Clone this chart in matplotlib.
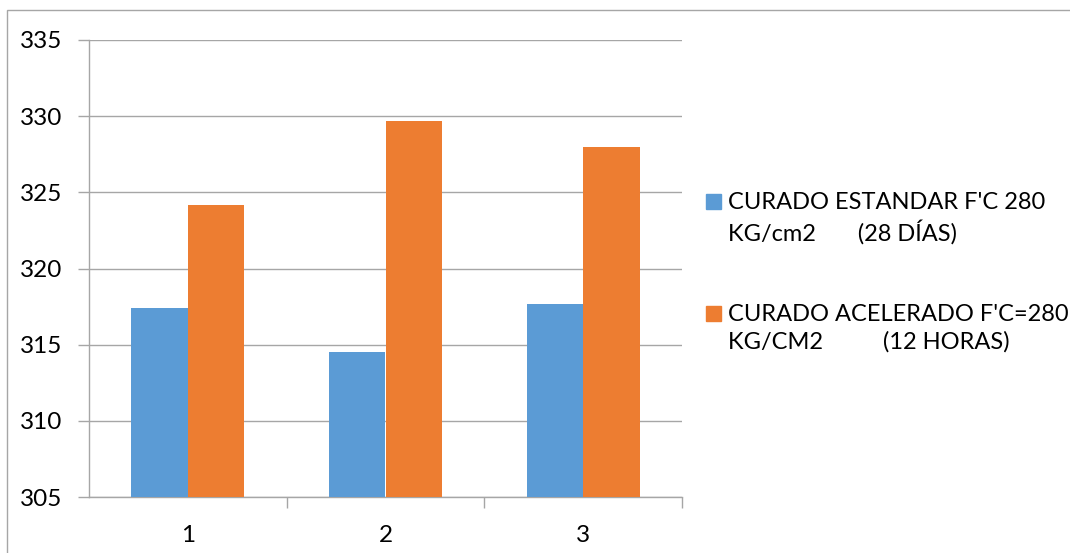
import numpy as np
import matplotlib.pyplot as plt
from matplotlib.patches import Rectangle

# Resistencia a compresión por muestra
muestras = ['1', '2', '3']
estandar = [317.4, 314.5, 317.7]
acelerado = [324.2, 329.7, 328.0]
leyenda = ["CURADO ESTANDAR F'C 280\nKG/cm2       (28 DÍAS)",
           "CURADO ACELERADO F'C=280\nKG/CM2          (12 HORAS)"]

azul = '#5B9BD5'
naranja = '#ED7D31'
gris = '#A6A6A6'

plt.rcParams['font.family'] = ['Lato', 'DejaVu Sans']

fig = plt.figure(figsize=(10.7, 5.53), dpi=100)
ax = fig.add_axes([89 / 1070, 1 - 497 / 553, (682 - 89) / 1070, (497 - 40) / 553])

x = np.arange(len(muestras))
w = 0.286
ax.bar(x - w / 2, np.array(estandar) - 305, w, bottom=305, color=azul, zorder=3)
ax.bar(x + w / 2, np.array(acelerado) - 305, w, bottom=305, color=naranja, zorder=3)

ax.set_xlim(-0.5, 2.5)
ax.set_ylim(305, 335)
ax.set_yticks(range(305, 336, 5))
ax.set_xticks(x)
ax.set_xticklabels(muestras)
ax.set_xticks([0.5, 1.5, 2.5], minor=True)

ax.grid(axis='y', color=gris, linewidth=1, zorder=0)
for s in ['top', 'right']:
    ax.spines[s].set_visible(False)
for s in ['left', 'bottom']:
    ax.spines[s].set_color(gris)
    ax.spines[s].set_linewidth(1)

ax.tick_params(axis='y', length=8, width=1, color=gris, pad=11, labelsize=17.5)
ax.tick_params(axis='x', which='major', length=0, pad=20, labelsize=17.5)
ax.tick_params(axis='x', which='minor', length=8, width=1, color=gris)

# leyenda a la derecha
for i, (col, txt) in enumerate(zip([azul, naranja], leyenda)):
    y0 = 194 + i * 112
    fig.add_artist(Rectangle((706 / 1070, 1 - (y0 + 15) / 553), 15 / 1070, 15 / 553,
                             transform=fig.transFigure, color=col))
    fig.text(728 / 1070, 1 - (y0 - 2) / 553, txt, fontsize=17, va='top',
             linespacing=1.32)

# marco exterior
fig.add_artist(Rectangle((7 / 1070, -0.05), 1.1, 1 - 10 / 553 + 0.05,
                         transform=fig.transFigure, fill=False,
                         edgecolor=gris, linewidth=1))

fig.savefig('out.png', dpi=100)
